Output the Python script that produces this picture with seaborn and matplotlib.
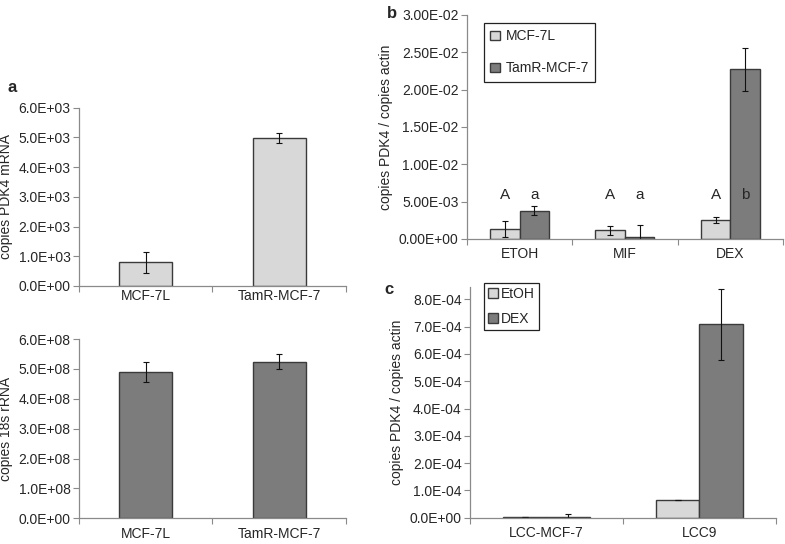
import matplotlib
matplotlib.use("Agg")
import matplotlib.pyplot as plt
import seaborn as sns
import pandas as pd
from matplotlib.ticker import FuncFormatter, FixedLocator, MultipleLocator
from matplotlib.patches import Patch

# panel a
lines_a = ["MCF-7L", "TamR-MCF-7"]
pdk4_mrna = [800, 4970]
pdk4_mrna_err = [350, 170]
rrna_18s = [4.89e8, 5.24e8]
rrna_18s_err = [0.34e8, 0.25e8]

# panel b
treat_b = ["ETOH", "MIF", "DEX"]
mcf7l_b = [0.0013, 0.00116, 0.00254]
mcf7l_b_err = [0.0011, 0.0006, 0.00045]
tamr_b = [0.0038, 0.0002, 0.0227]
tamr_b_err = [0.0006, 0.0017, 0.0029]
letters_mcf7l = ["A", "A", "A"]
letters_tamr = ["a", "a", "b"]

# panel c
lines_c = ["LCC-MCF-7", "LCC9"]
etoh_c = [1e-6, 0.66e-4]
etoh_c_err = [0.0, 0.0]
dex_c = [1e-6, 7.09e-4]
dex_c_err = [1.2e-5, 1.3e-4]

LIGHT = "#d8d8d8"
DARK = "#7c7c7c"
EDGE = "#3a3a3a"
SPINE = "#8a8a8a"

sns.set_style("white")
plt.rcParams["font.family"] = ["Liberation Sans", "DejaVu Sans"]
plt.rcParams["font.size"] = 10

fig = plt.figure(figsize=(7.85, 5.44), dpi=100)


def style_axis(ax, ncat, fmt, xpad=6):
    for s in ["top", "right"]:
        ax.spines[s].set_visible(False)
    for s in ["left", "bottom"]:
        ax.spines[s].set_color(SPINE)
        ax.spines[s].set_linewidth(0.9)
    ax.set_xlim(-0.5, ncat - 0.5)
    ax.yaxis.set_major_formatter(FuncFormatter(lambda v, p: format(v, fmt)))
    ax.tick_params(axis="y", which="major", length=4, width=0.8, color=SPINE,
                   direction="out", left=True, labelsize=10, pad=2)
    ax.tick_params(axis="x", which="major", length=0, labelsize=10, pad=xpad)
    ax.xaxis.set_minor_locator(FixedLocator([i - 0.5 for i in range(ncat + 1)]))
    ax.tick_params(axis="x", which="minor", length=4, width=0.8, color=SPINE,
                   direction="out", bottom=True)
    ax.set_xlabel("")


def add_errors(ax, values, errors):
    for p, v, e in zip(ax.patches, values, errors):
        cx = p.get_x() + p.get_width() / 2
        ax.errorbar(cx, v, yerr=e, fmt="none", ecolor="#111111",
                    elinewidth=0.8, capsize=2.5, capthick=0.8)


# a top
ax1 = fig.add_axes([0.1006, 0.4743, 0.3401, 0.3278])
sns.barplot(x=lines_a, y=pdk4_mrna, color=LIGHT, width=0.4, saturation=1,
            edgecolor=EDGE, linewidth=1.0, errorbar=None, ax=ax1)
add_errors(ax1, pdk4_mrna, pdk4_mrna_err)
style_axis(ax1, 2, ".1E", xpad=2)
ax1.set_ylim(0, 6000)
ax1.yaxis.set_major_locator(MultipleLocator(1000))
ax1.set_ylabel("copies PDK4 mRNA", fontsize=10, labelpad=4)

# a bottom
ax2 = fig.add_axes([0.1006, 0.0472, 0.3401, 0.3296])
sns.barplot(x=lines_a, y=rrna_18s, color=DARK, width=0.4, saturation=1,
            edgecolor=EDGE, linewidth=1.0, errorbar=None, ax=ax2)
add_errors(ax2, rrna_18s, rrna_18s_err)
style_axis(ax2, 2, ".1E")
ax2.set_ylim(0, 6e8)
ax2.yaxis.set_major_locator(MultipleLocator(1e8))
ax2.set_ylabel("copies 18s rRNA", fontsize=10, labelpad=4)

# b
df_b = pd.DataFrame({
    "treat": treat_b * 2,
    "line": ["MCF-7L"] * 3 + ["TamR-MCF-7"] * 3,
    "val": mcf7l_b + tamr_b,
})
ax3 = fig.add_axes([0.5949, 0.5607, 0.4025, 0.4118])
sns.barplot(data=df_b, x="treat", y="val", hue="line", width=0.56,
            palette=[LIGHT, DARK], saturation=1, edgecolor=EDGE, linewidth=1.0,
            errorbar=None, ax=ax3, legend=False)
bars_b = list(ax3.patches[:6])
add_errors(ax3, mcf7l_b + tamr_b, mcf7l_b_err + tamr_b_err)
for p, t in zip(bars_b, letters_mcf7l + letters_tamr):
    ax3.text(p.get_x() + p.get_width() / 2, 0.0059, t, ha="center",
             va="center", fontsize=11)
style_axis(ax3, 3, ".2E")
ax3.set_ylim(0, 0.03)
ax3.yaxis.set_major_locator(MultipleLocator(0.005))
ax3.set_ylabel("copies PDK4 / copies actin", fontsize=10, labelpad=4)
leg_b = ax3.legend(handles=[Patch(facecolor=LIGHT, edgecolor=EDGE, label="MCF-7L"),
                            Patch(facecolor=DARK, edgecolor=EDGE, label="TamR-MCF-7")],
                   loc="upper left", bbox_to_anchor=(0.054, 0.964), borderaxespad=0,
                   fontsize=10, handlelength=0.7, handleheight=0.7,
                   handletextpad=0.4, labelspacing=1.3, borderpad=0.45,
                   fancybox=False, framealpha=1)
leg_b.get_frame().set_edgecolor("#222222")
leg_b.get_frame().set_linewidth(0.9)

# c
df_c = pd.DataFrame({
    "line": lines_c * 2,
    "treat": ["EtOH"] * 2 + ["DEX"] * 2,
    "val": etoh_c + dex_c,
})
ax4 = fig.add_axes([0.5987, 0.0483, 0.3898, 0.4241])
sns.barplot(data=df_c, x="line", y="val", hue="treat", width=0.566,
            palette=[LIGHT, DARK], saturation=1, edgecolor=EDGE, linewidth=1.0,
            errorbar=None, ax=ax4, legend=False)
add_errors(ax4, etoh_c + dex_c, etoh_c_err + dex_c_err)
style_axis(ax4, 2, ".1E")
ax4.set_ylim(0, 8.45e-4)
ax4.yaxis.set_major_locator(FixedLocator([i * 1e-4 for i in range(9)]))
ax4.set_ylabel("copies PDK4 / copies actin", fontsize=10, labelpad=4)
leg_c = ax4.legend(handles=[Patch(facecolor=LIGHT, edgecolor=EDGE, label="EtOH"),
                            Patch(facecolor=DARK, edgecolor=EDGE, label="DEX")],
                   loc="upper left", bbox_to_anchor=(0.046, 1.018), borderaxespad=0,
                   fontsize=10, handlelength=0.7, handleheight=0.7,
                   handletextpad=0.2, labelspacing=0.8, borderpad=0.3,
                   fancybox=False, framealpha=1)
leg_c.get_frame().set_edgecolor("#222222")
leg_c.get_frame().set_linewidth(0.9)

# panel letters
fig.text(0.009, 1 - 88 / 544, "a", fontsize=12, fontweight="bold", va="center")
fig.text(0.493, 1 - 14 / 544, "b", fontsize=12, fontweight="bold", va="center")
fig.text(0.490, 1 - 290 / 544, "c", fontsize=12, fontweight="bold", va="center")

fig.savefig("out.png", dpi=100)
